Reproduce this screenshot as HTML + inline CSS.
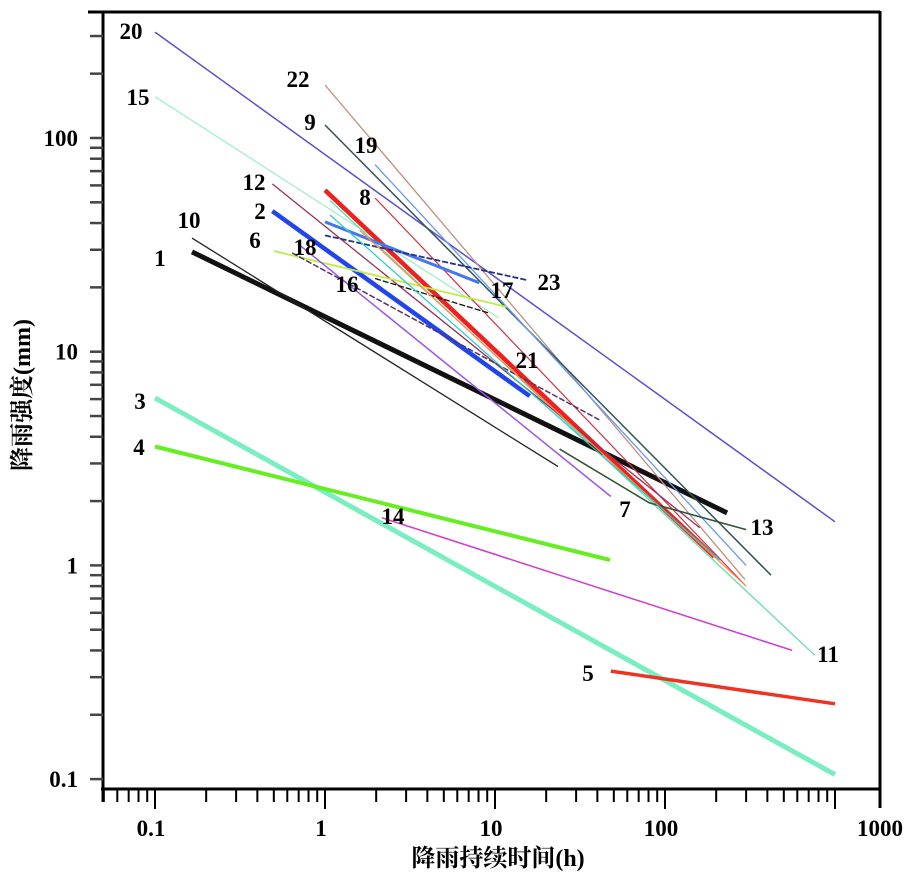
<!DOCTYPE html>
<html><head><meta charset="utf-8"><style>
body{margin:0;background:#fff;}
svg{display:block;font-family:"Liberation Serif","Noto Serif CJK SC",serif;}
</style></head><body>
<svg id="chart" width="912" height="875" viewBox="0 0 912 875">
</svg>
<script>
const seriesNames = ["20","15","11","3","4","1","10","2","8","8b","22","9","19","12","17","23","6","18","16","7","13","14","5","or","cy"];
const seriesX = [[0.1,1000],[0.1,10.5],[1.07,760],[0.1,1000],[0.1,47.5],[0.165,232],[0.165,23.5],[0.49,16],[1,195],[1.97,295],[1,295],[1,420],[1.97,300],[0.49,160],[1,8.1],[1,15.5],[0.5,11.7],[0.64,41],[1.97,9.1],[0.71,48],[24,81,300],[2.16,560],[48,1000],[1.6,300],[1.07,210]];
const seriesY = [[313,1.6],[156,14.4],[51,0.38],[6.07,0.105],[3.6,1.06],[29.3,1.76],[34,2.9],[45.5,6.2],[57,1.1],[52.4,0.81],[177,0.86],[115,0.9],[75,1.0],[61,1.5],[40.5,21],[35,21.6],[29.6,16.2],[29,4.8],[22,15.2],[31.5,2.1],[3.5,1.96,1.47],[1.67,0.4],[0.32,0.225],[37,0.8],[43.6,1.06]];
const xTickVals = [0.1,1,10,100];
const xTickLabels = ["0.1","1","10","100"];
const yTickVals = [100,10,1,0.1];
const yTickLabels = ["100","10","1","0.1"];
const labelTexts = ["20","15","22","9","19","12","8","2","10","6","18","1","16","17","23","21","3","4","14","7","13","11","5"];
const labelPos = [[131,31],[138,97],[298,79],[310,122],[366,145],[254,182],[365,197],[260,211],[189,220],[255,240],[305,247],[160,258],[347,284],[502,290],[549,282],[527,360],[140,401],[139,447],[393,516],[625,509],[762,527],[828,654],[588,673]];
const styles = {"20":["#5a4fd0",1.5],"15":["#99eec4",1.2],"11":["#66ddaa",1.3],"3":["#7aeec0",5],"4":["#66ee22",4],"1":["#111",5],"10":["#222",1.3],"2":["#2244ee",4.5],"8":["#ee2020",4.5],"8b":["#cc3344",1.2],"22":["#c09080",1.3],"9":["#335555",1.5],"19":["#6699ee",1.3],"12":["#993355",1.3],"17":["#4477ee",3],"23":["#223388",1.8],"6":["#bbee44",1.8],"18":["#553366",1.5],"16":["#111",1.3],"7":["#9955ee",1.5],"13":["#2f5533",1.6],"14":["#cc44cc",1.6],"5":["#ee3322",3.5],"or":["#ff8844",1.2],"cy":["#22cccc",1.2]};
const NS="http://www.w3.org/2000/svg";
const svg=document.getElementById('chart');
const X=v=>155+170*Math.log10(v/0.1);
const Y=v=>138-213.7*(Math.log10(v)-2);
function mk(t,a,p){const e=document.createElementNS(NS,t);for(const k in a)e.setAttribute(k,a[k]);(p||svg).appendChild(e);return e;}
let e;
e=mk('line',{x1:88,y1:12,x2:880,y2:12,stroke:'#000','stroke-width':3});


e=mk('line',{x1:103,y1:11,x2:103,y2:802,stroke:'#000','stroke-width':3});


e=mk('line',{x1:101,y1:789,x2:881,y2:789,stroke:'#000','stroke-width':3});


e=mk('line',{x1:880,y1:11,x2:880,y2:808,stroke:'#000','stroke-width':3});


for(let d=-2;d<=3;d++){for(let m=1;m<10;m++){const v=m*Math.pow(10,d);const px=X(v);if(px<103||px>880)continue;
e=mk('line',{x1:px,y1:789,x2:px,y2:m==1?809:802,stroke:'#000','stroke-width':2});

}}
xTickVals.forEach((v,i)=>{e=mk('text',{x:X(v)-4,y:836,'font-size':23,'font-weight':'bold','text-anchor':'middle'});e.textContent=xTickLabels[i];

});
e=mk('text',{x:880,y:836,'font-size':23,'font-weight':'bold','text-anchor':'middle'});e.textContent='1000';


for(let d=-2;d<=3;d++){for(let m=1;m<10;m++){const v=m*Math.pow(10,d);const py=Y(v);if(py<14||py>787)continue;
e=mk('line',{x1:90,y1:py,x2:103,y2:py,stroke:'#444','stroke-width':2.5});

}}
yTickVals.forEach((v,i)=>{e=mk('text',{x:78,y:Y(v)+8,'font-size':23,'font-weight':'bold','text-anchor':'end'});e.textContent=yTickLabels[i];

});
seriesNames.forEach((n,i)=>{const pts=seriesX[i].map((x,j)=>X(x).toFixed(1)+','+Y(seriesY[i][j]).toFixed(1)).join(' ');
const s=styles[n];const a={points:pts,fill:'none',stroke:s[0],'stroke-width':s[1]};
if(n=='23'||n=='16'||n=='18')a['stroke-dasharray']='6,2';
e=mk('polyline',a);

});
labelTexts.forEach((t,i)=>{e=mk('text',{x:labelPos[i][0],y:labelPos[i][1]+8,'font-size':23,'font-weight':'bold','text-anchor':'middle'});e.textContent=t;

});
e=mk('text',{x:498,y:866,'font-size':24,'font-weight':'bold','text-anchor':'middle'});e.textContent='降雨持续时间(h)';


e=mk('text',{x:0,y:0,'font-size':24,'font-weight':'bold','text-anchor':'middle',transform:'translate(30,395) rotate(-90)'});e.textContent='降雨强度(mm)';


</script>
</body></html>
